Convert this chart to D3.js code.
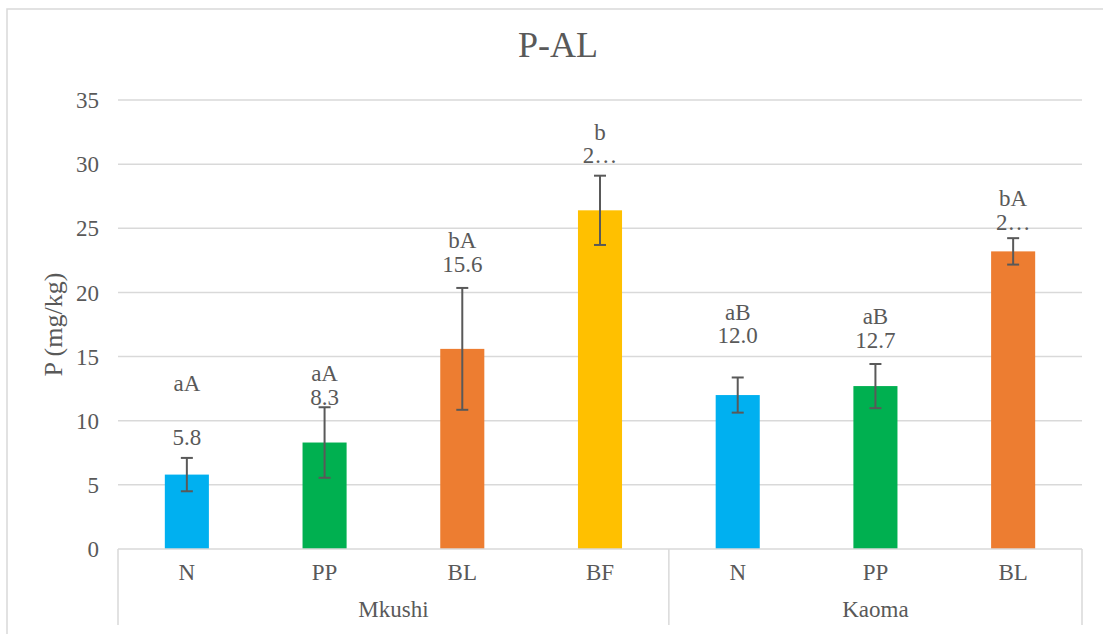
<!DOCTYPE html>
<html>
<head>
<meta charset="utf-8">
<script src="https://cdn.jsdelivr.net/npm/d3@7"></script>
<style>
  html, body { margin: 0; padding: 0; background: #ffffff; }
  svg { display: block; }
  svg text { font-family: 'Liberation Serif', 'Times New Roman', Times, 'DejaVu Serif', serif !important; fill: #595959; }
</style>
</head>
<body>
<svg id="chart" width="1103" height="634"></svg>
<script>
// ---- data ----
const categories = ["N", "PP", "BL", "BF", "N", "PP", "BL"];
const groups = ["Mkushi", "Mkushi", "Mkushi", "Mkushi", "Kaoma", "Kaoma", "Kaoma"];
const values = [5.8, 8.3, 15.6, 26.4, 12.0, 12.7, 23.2];
const errors = [1.3, 2.75, 4.75, 2.7, 1.37, 1.72, 1.03];
const letters = ["aA", "aA", "bA", "b", "aB", "aB", "bA"];
const valueLabels = ["5.8", "8.3", "15.6", "2…", "12.0", "12.7", "2…"];
// where the data labels were placed (in y-axis units)
const letterAt = [12.94, 13.72, 24.02, 32.5, 18.47, 18.16, 27.36];
const valueAt = [8.73, 11.85, 22.15, 30.71, 16.68, 16.29, 25.49];
const yTicks = [0, 5, 10, 15, 20, 25, 30, 35];
const title = "P-AL";
const yTitle = "P (mg/kg)";

// ---- styles ----
const FONT = "'Liberation Serif', 'Times New Roman', Times, 'DejaVu Serif', serif";
const catColor = { N: "#00B0F0", PP: "#00B050", BL: "#ED7D31", BF: "#FFC000" };
const gridColor = "#D9D9D9";
const textColor = "#595959";

const svg = d3.select("#chart").attr("font-family", FONT);
const plot = { left: 118, right: 1082, top: 100, bottom: 549 };

// chart border
svg.append("rect")
  .attr("x", 7).attr("y", 9).attr("width", 1110).attr("height", 640)
  .attr("fill", "none").attr("stroke", gridColor).attr("stroke-width", 1.5);

const idx = d3.range(categories.length);
const x = d3.scaleBand().domain(idx).range([plot.left, plot.right]).padding(0);
const y = d3.scaleLinear().domain([0, 35]).range([plot.bottom, plot.top]);
const barW = x.bandwidth() * 0.32;

// title (centred on the whole chart box)
svg.append("text")
  .attr("x", 558).attr("y", 57)
  .attr("text-anchor", "middle")
  .style("font-size", "36px").style("font-family", FONT)
  .text(title);

// gridlines
svg.append("g").selectAll("line")
  .data(yTicks.filter(t => t > 0))
  .join("line")
  .attr("x1", plot.left).attr("x2", plot.right)
  .attr("y1", d => y(d)).attr("y2", d => y(d))
  .attr("stroke", gridColor).attr("stroke-width", 1.5);

// y axis tick labels
const yAxis = d3.axisLeft(y).tickValues(yTicks).tickSize(0).tickPadding(0);
const gy = svg.append("g").attr("transform", `translate(${plot.left - 19},0)`).call(yAxis);
gy.attr("font-family", FONT);
gy.select(".domain").remove();
gy.selectAll("text")
  .style("font-size", "23px")
  .style("font-family", FONT)
  .attr("fill", textColor)
  .attr("dy", "0.33em");

// y axis title
svg.append("text")
  .attr("transform", `translate(53,${(plot.top + plot.bottom) / 2}) rotate(-90)`)
  .attr("text-anchor", "middle")
  .attr("dy", "0.33em")
  .style("font-size", "26px").style("font-family", FONT)
  .text(yTitle);

// bars
svg.append("g").selectAll("rect")
  .data(idx)
  .join("rect")
  .attr("x", i => x(i) + x.bandwidth() / 2 - barW / 2)
  .attr("width", barW)
  .attr("y", i => y(values[i]))
  .attr("height", i => y(0) - y(values[i]))
  .attr("fill", i => catColor[categories[i]]);

// error bars
const eg = svg.append("g").attr("stroke", "#595959").attr("stroke-width", 2);
idx.forEach(i => {
  const cx = x(i) + x.bandwidth() / 2;
  const lo = y(values[i] - errors[i]);
  const hi = y(values[i] + errors[i]);
  eg.append("line").attr("x1", cx).attr("x2", cx).attr("y1", lo).attr("y2", hi);
  eg.append("line").attr("x1", cx - 6).attr("x2", cx + 6).attr("y1", lo).attr("y2", lo);
  eg.append("line").attr("x1", cx - 6).attr("x2", cx + 6).attr("y1", hi).attr("y2", hi);
});

// data labels
const lg = svg.append("g").attr("text-anchor", "middle");
lg.selectAll("text.letter")
  .data(idx).join("text").attr("class", "letter")
  .attr("x", i => x(i) + x.bandwidth() / 2)
  .attr("y", i => y(letterAt[i]))
  .attr("dy", "0.33em")
  .style("font-size", "23px").style("font-family", FONT)
  .text(i => letters[i]);
lg.selectAll("text.val")
  .data(idx).join("text").attr("class", "val")
  .attr("x", i => x(i) + x.bandwidth() / 2)
  .attr("y", i => y(valueAt[i]))
  .attr("dy", "0.33em")
  .style("font-size", "23px").style("font-family", FONT)
  .text(i => valueLabels[i]);

// category axis
const ax = svg.append("g");
ax.append("line")
  .attr("x1", plot.left).attr("x2", plot.right)
  .attr("y1", plot.bottom).attr("y2", plot.bottom)
  .attr("stroke", gridColor).attr("stroke-width", 1.5);

const groupNames = Array.from(new Set(groups));
const groupSpans = groupNames.map(g => {
  const members = idx.filter(i => groups[i] === g);
  return { name: g, x0: x(members[0]), x1: x(members[members.length - 1]) + x.bandwidth() };
});
const boundaries = [plot.left].concat(groupSpans.map(s => s.x1));
ax.selectAll("line.sep")
  .data(boundaries).join("line").attr("class", "sep")
  .attr("x1", d => d).attr("x2", d => d)
  .attr("y1", plot.bottom).attr("y2", 625)
  .attr("stroke", gridColor).attr("stroke-width", 1.5);

ax.selectAll("text.cat")
  .data(idx).join("text").attr("class", "cat")
  .attr("x", i => x(i) + x.bandwidth() / 2)
  .attr("y", 580)
  .attr("text-anchor", "middle")
  .style("font-size", "23px").style("font-family", FONT)
  .text(i => categories[i]);

ax.selectAll("text.grp")
  .data(groupSpans).join("text").attr("class", "grp")
  .attr("x", d => (d.x0 + d.x1) / 2)
  .attr("y", 617)
  .attr("text-anchor", "middle")
  .style("font-size", "23px").style("font-family", FONT)
  .text(d => d.name);
</script>
</body>
</html>
